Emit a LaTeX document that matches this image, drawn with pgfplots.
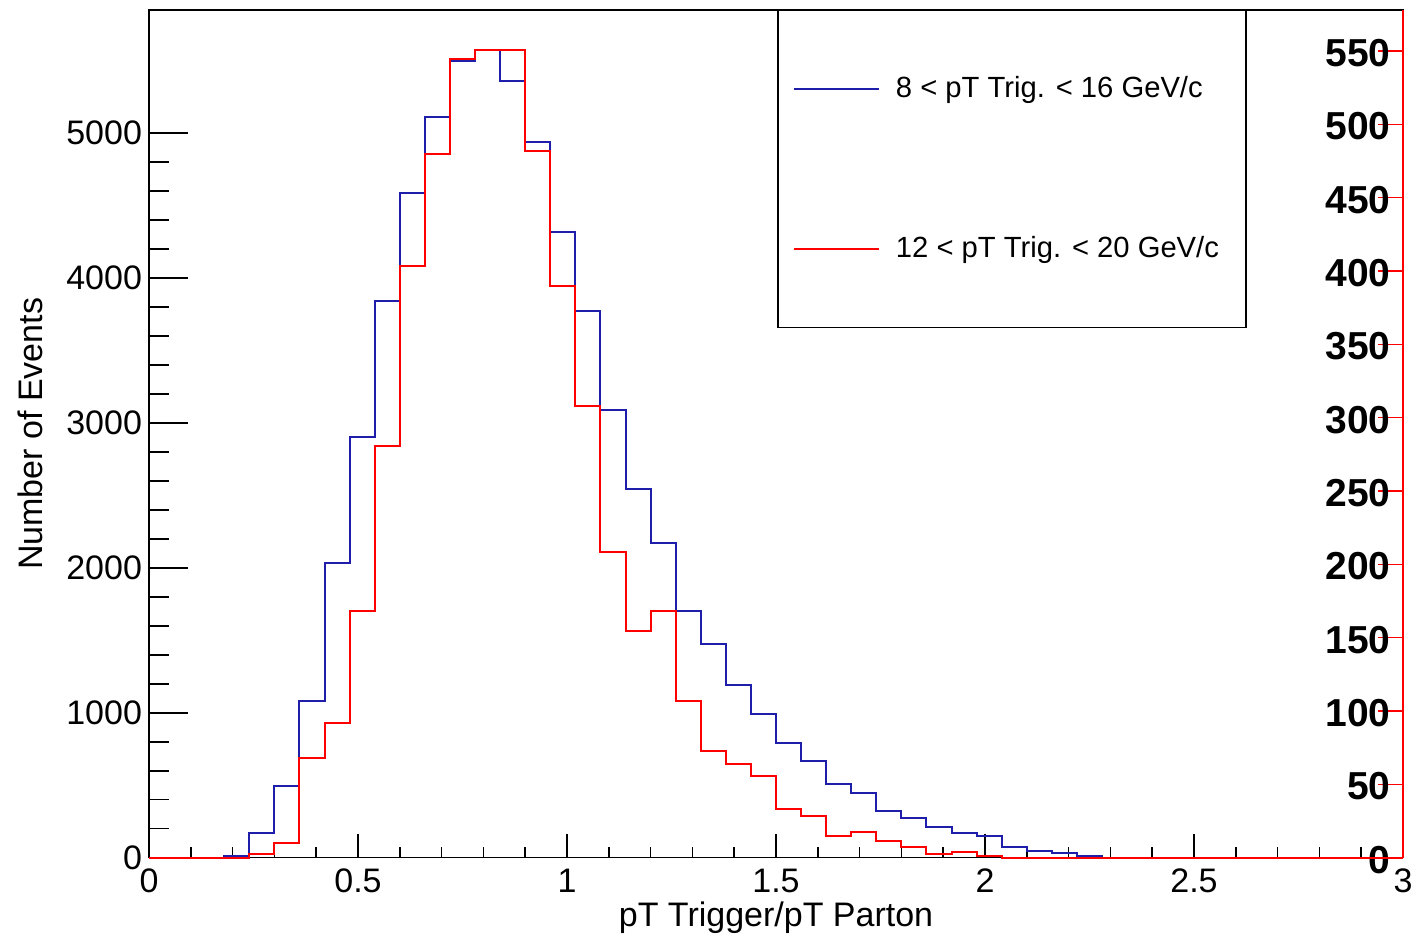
\documentclass[border=0pt]{standalone}
\usepackage{pgfplots}
\pgfplotsset{compat=1.18}
\usepackage{pgfplotstable}
\usepackage{fontspec}
\setmainfont{Liberation Sans}
\definecolor{rootblue}{RGB}{30,30,170}

% bin left edges (width 0.06), last row closes the histogram at x=3
\pgfplotstableread{
x y
0.00 0
0.18 14
0.24 168
0.30 495
0.36 1083
0.42 2036
0.48 2903
0.54 3842
0.60 4587
0.66 5110
0.72 5498
0.78 5574
0.84 5360
0.90 4937
0.96 4320
1.02 3773
1.08 3090
1.14 2545
1.20 2170
1.26 1705
1.32 1473
1.38 1192
1.44 992
1.50 790
1.56 665
1.62 509
1.68 449
1.74 322
1.80 276
1.86 214
1.92 168
1.98 150
2.04 76
2.10 46
2.16 30
2.22 14
2.28 0
3.00 0
}\bluedata

% red histogram, in units of the right axis
\pgfplotstableread{
x y
0.00 0
0.24 2.5
0.30 10.2
0.36 68
0.42 91.6
0.48 168.4
0.54 280.7
0.60 403.5
0.66 480
0.72 544.6
0.78 550.8
0.84 550.8
0.90 481.9
0.96 389.8
1.02 308
1.08 208.7
1.14 154.8
1.20 168.4
1.26 106.8
1.32 73
1.38 63.9
1.44 55.9
1.50 33.4
1.56 28.4
1.62 14.8
1.68 17.7
1.74 11.6
1.80 7.1
1.86 2.5
1.92 3.9
1.98 1.2
2.04 0
3.00 0
}\reddata

\pgfplotsset{
  common/.style={
    scale only axis, width=627pt, height=423.85pt,
    at={(0,0)}, anchor=south west,
    xmin=0, xmax=3, clip=false,
    /pgf/number format/assume math mode=true,
    /pgf/number format/1000 sep={},
    scaled ticks=false,
    tick align=inside,
    every axis plot/.append style={line width=1pt, const plot mark left, no marks},
  },
  tickfont/.style={font=\fontsize{17}{20}\selectfont},
}

\begin{document}
\begin{tikzpicture}
\path[use as bounding box] (-74.5pt,-39.65pt) rectangle (633.5pt,428.85pt);

% frame and x axis
\begin{axis}[common,
  ymin=0, ymax=5850, ytick=\empty,
  xtick={0,0.5,1,1.5,2,2.5,3}, minor x tick num=4, xtick pos=bottom,
  major tick length=12pt, minor tick length=5.5pt,
  axis line style={line width=0.75pt},
  every tick/.style={black, line width=0.75pt},
  xticklabel style={tickfont, yshift=-2pt},
  xlabel={pT Trigger/pT Parton},
  xlabel style={font=\fontsize{17}{20}\selectfont, at={(axis description cs:0.5,-0.0816)}, anchor=base},
  ylabel={Number of Events},
  ylabel style={font=\fontsize{17}{20}\selectfont, at={(axis description cs:-0.0853,0.5)}, anchor=base},
]
\end{axis}

% left y axis, blue histogram
\begin{axis}[common,
  ymin=0, ymax=5850,
  hide x axis, axis y line*=left,
  ytick={0,1000,2000,3000,4000,5000}, minor y tick num=4,
  major tick length=19.5pt, minor tick length=9.75pt,
  axis line style={line width=0.75pt},
  every tick/.style={black, line width=0.75pt},
  yticklabel style={tickfont},
]
\addplot[rootblue] table[x=x, y=y] {\bluedata};
\end{axis}

% right y axis, red histogram and legend
\begin{axis}[common,
  ymin=0, ymax=578,
  hide x axis, axis y line*=right,
  ytick={0,50,100,150,200,250,300,350,400,450,500,550}, minor y tick num=0,
  major tick length=12.5pt,
  axis line style={red, line width=0.75pt},
  every tick/.style={red, line width=0.75pt},
  yticklabel style={font=\bfseries\fontsize{19.5}{22}\selectfont, anchor=east, inner sep=0pt, xshift=-6pt, yshift=-1pt},
  legend cell align=left,
  legend style={at={(rel axis cs:0.501,1)}, anchor=north west,
    draw=black, line width=0.7pt, fill=white,
    font=\fontsize{14.6}{17}\selectfont,
    inner xsep=7.5pt, inner ysep=31.7pt, row sep=65pt, column sep=8pt,
    nodes={inner sep=0pt, text height=11.5pt, text depth=3.5pt}},
  legend image code/.code={\draw[#1] (0pt,0pt) -- (42.5pt,0pt);},
]
\addlegendimage{rootblue, line width=1pt}
\addlegendentry{8 < pT Trig. < 16 GeV/c}
\addplot[red] table[x=x, y=y] {\reddata};
\addlegendentry{12 < pT Trig. < 20 GeV/c\rule{6pt}{0pt}}
\end{axis}
\end{tikzpicture}
\end{document}
